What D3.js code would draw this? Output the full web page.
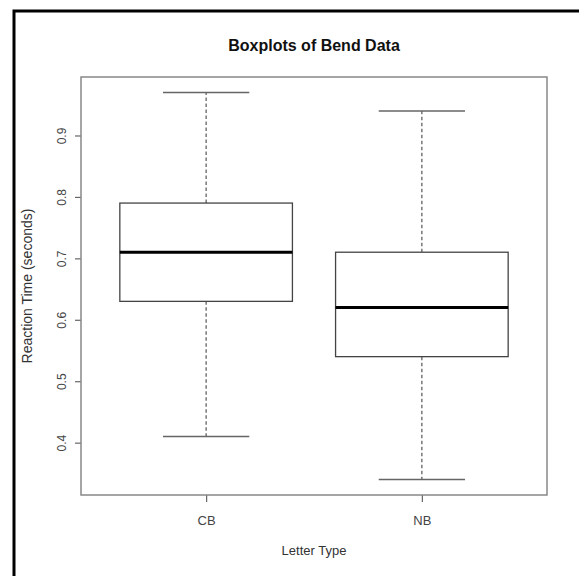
<!DOCTYPE html>
<meta charset="utf-8">
<style>
body { margin: 0; background: #fff; }
text { font-family: "Liberation Sans", Arial, sans-serif; fill: #333; }
.title { font-weight: bold; fill: #111; }
.frame { fill: none; stroke: #888; stroke-width: 1.5; }
.box { fill: #fff; stroke: #444; stroke-width: 1.3; }
.median { stroke: #000; stroke-width: 3; }
.whisker { stroke: #555; stroke-width: 1.2; stroke-dasharray: 3.5,2.5; }
.cap { stroke: #666; stroke-width: 1.5; }
.axis path { display: none; }
.axis line { stroke: #666; stroke-width: 1.2; }
.axis text { font-size: 12px; fill: #444; }
</style>
<svg width="579" height="576"></svg>
<script src="https://cdn.jsdelivr.net/npm/d3@7"></script>
<script>

var categories = ["CB", "NB"];
var whiskerLow = [0.41, 0.34];
var q1 = [0.63, 0.54];
var median = [0.71, 0.62];
var q3 = [0.79, 0.71];
var whiskerHigh = [0.97, 0.94];
var yTicks = [0.4, 0.5, 0.6, 0.7, 0.8, 0.9];

var svg = d3.select("svg");

var plotLeft = 81, plotRight = 547, plotTop = 77, plotBottom = 495;

// outer black frame runs off the right and bottom edges
svg.append("rect")
    .attr("x", 14).attr("y", 11)
    .attr("width", 600).attr("height", 600)
    .attr("fill", "none").attr("stroke", "#000").attr("stroke-width", 3);

var lo = d3.min(whiskerLow), hi = d3.max(whiskerHigh), pad = (hi - lo) * 0.04;

var y = d3.scaleLinear()
    .domain([lo - pad, hi + pad])
    .range([plotBottom, plotTop]);

var x = d3.scaleLinear()
    .domain([0.42, 2.58])
    .range([plotLeft, plotRight]);

var boxes = categories.map(function(c, i) {
  return { name: c, pos: i + 1, lo: whiskerLow[i], q1: q1[i], med: median[i], q3: q3[i], hi: whiskerHigh[i] };
});

var g = svg.append("g").selectAll("g")
    .data(boxes)
  .enter().append("g");

// whiskers
g.append("line").attr("class", "whisker")
    .attr("x1", function(d) { return x(d.pos); }).attr("x2", function(d) { return x(d.pos); })
    .attr("y1", function(d) { return y(d.q3); }).attr("y2", function(d) { return y(d.hi); });
g.append("line").attr("class", "whisker")
    .attr("x1", function(d) { return x(d.pos); }).attr("x2", function(d) { return x(d.pos); })
    .attr("y1", function(d) { return y(d.q1); }).attr("y2", function(d) { return y(d.lo); });

// caps
["lo", "hi"].forEach(function(k) {
  g.append("line").attr("class", "cap")
      .attr("x1", function(d) { return x(d.pos - 0.2); }).attr("x2", function(d) { return x(d.pos + 0.2); })
      .attr("y1", function(d) { return y(d[k]); }).attr("y2", function(d) { return y(d[k]); });
});

g.append("rect").attr("class", "box")
    .attr("x", function(d) { return x(d.pos - 0.4); })
    .attr("width", function(d) { return x(d.pos + 0.4) - x(d.pos - 0.4); })
    .attr("y", function(d) { return y(d.q3); })
    .attr("height", function(d) { return y(d.q1) - y(d.q3); });

g.append("line").attr("class", "median")
    .attr("x1", function(d) { return x(d.pos - 0.4); }).attr("x2", function(d) { return x(d.pos + 0.4); })
    .attr("y1", function(d) { return y(d.med); }).attr("y2", function(d) { return y(d.med); });

// axes
var yAxis = svg.append("g")
    .attr("class", "axis")
    .attr("transform", "translate(" + plotLeft + ",0)")
    .call(d3.axisLeft(y).tickValues(yTicks).tickSize(6).tickFormat(d3.format(".1f")));
yAxis.selectAll(".tick text")
    .attr("x", null).attr("dy", null)
    .attr("transform", "translate(-19,0) rotate(-90)")
    .attr("text-anchor", "middle")
    .attr("dominant-baseline", "central");

svg.append("g")
    .attr("class", "axis")
    .attr("transform", "translate(0," + plotBottom + ")")
    .call(d3.axisBottom(x).tickValues([1, 2]).tickSize(7).tickPadding(14)
      .tickFormat(function(d) { return categories[d - 1]; }))
  .selectAll("text").style("font-size", "13px");

svg.append("rect").attr("class", "frame")
    .attr("x", plotLeft).attr("y", plotTop)
    .attr("width", plotRight - plotLeft).attr("height", plotBottom - plotTop);

svg.append("text")
    .attr("class", "title")
    .attr("x", (plotLeft + plotRight) / 2).attr("y", 51)
    .attr("text-anchor", "middle")
    .style("font-size", "16px")
    .text("Boxplots of Bend Data");

svg.append("text")
    .attr("x", (plotLeft + plotRight) / 2).attr("y", 555)
    .attr("text-anchor", "middle")
    .style("font-size", "13px")
    .text("Letter Type");

svg.append("text")
    .attr("transform", "translate(32," + ((plotTop + plotBottom) / 2) + ") rotate(-90)")
    .attr("text-anchor", "middle")
    .style("font-size", "14px")
    .text("Reaction Time (seconds)");

</script>
